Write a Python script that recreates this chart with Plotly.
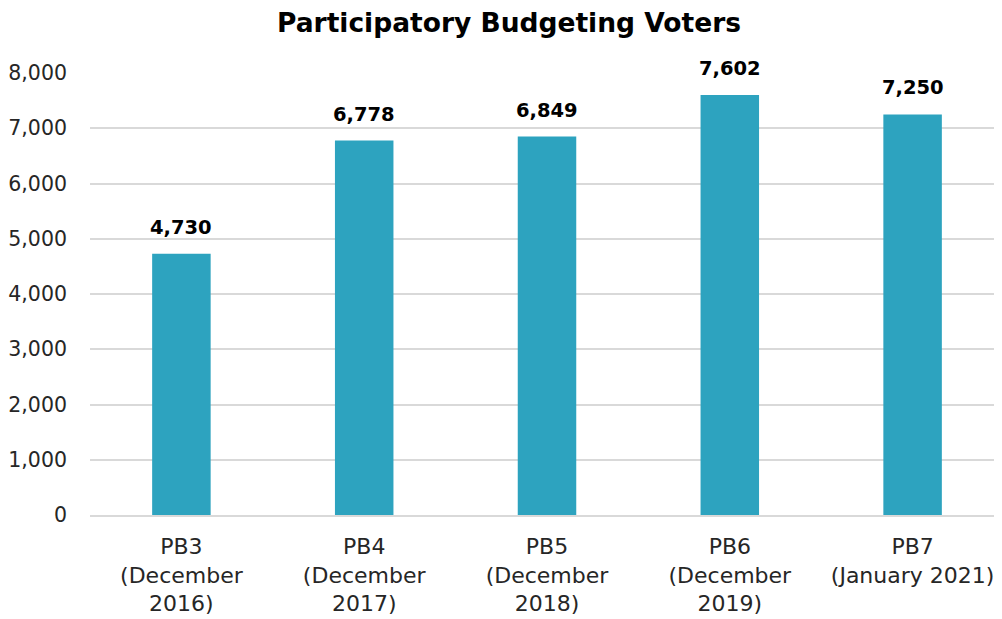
import plotly.graph_objects as go

categories = ["PB3<br>(December<br>2016)", "PB4<br>(December<br>2017)", "PB5<br>(December<br>2018)",
              "PB6<br>(December<br>2019)", "PB7<br>(January 2021)"]
voters = [4730, 6778, 6849, 7602, 7250]
y_ticks = [0, 1000, 2000, 3000, 4000, 5000, 6000, 7000, 8000]

FONT = "DejaVu Sans, sans-serif"

fig = go.Figure(go.Bar(
    x=categories, y=voters,
    marker=dict(color="#2DA3BF", line=dict(width=0)),
    cliponaxis=False,
))

for c, v in zip(categories, voters):
    fig.add_annotation(x=c, y=v, text=f"<b>{v:,}</b>", showarrow=False,
                       yanchor="bottom", yshift=13,
                       font=dict(family=FONT, size=19.5, color="#000000"))

fig.update_layout(
    width=1002, height=619,
    margin=dict(l=82, r=6, t=65, b=112),
    paper_bgcolor="white", plot_bgcolor="white",
    bargap=0.68,
    title=dict(text="<b>Participatory Budgeting Voters</b>", x=0.5, xanchor="center",
               y=0.977, yanchor="middle",
               font=dict(family=FONT, size=26.5, color="#000000")),
    font=dict(family=FONT, size=20, color="#262626"),
    showlegend=False,
)
fig.update_yaxes(range=[0, 8000], tickvals=y_ticks, tickformat=",", showgrid=True,
                 gridcolor="#D9D9D9", gridwidth=1.5, zeroline=False, showline=False,
                 automargin=False,
                 ticks="", ticklabelstandoff=22, tickfont=dict(size=20.5, color="#262626"))
fig.update_xaxes(showline=True, linecolor="#D9D9D9", linewidth=1.5, ticks="",
                 automargin=False,
                 ticklabelstandoff=11,
                 tickfont=dict(size=22, color="#262626"))

fig.write_html("out.html")
